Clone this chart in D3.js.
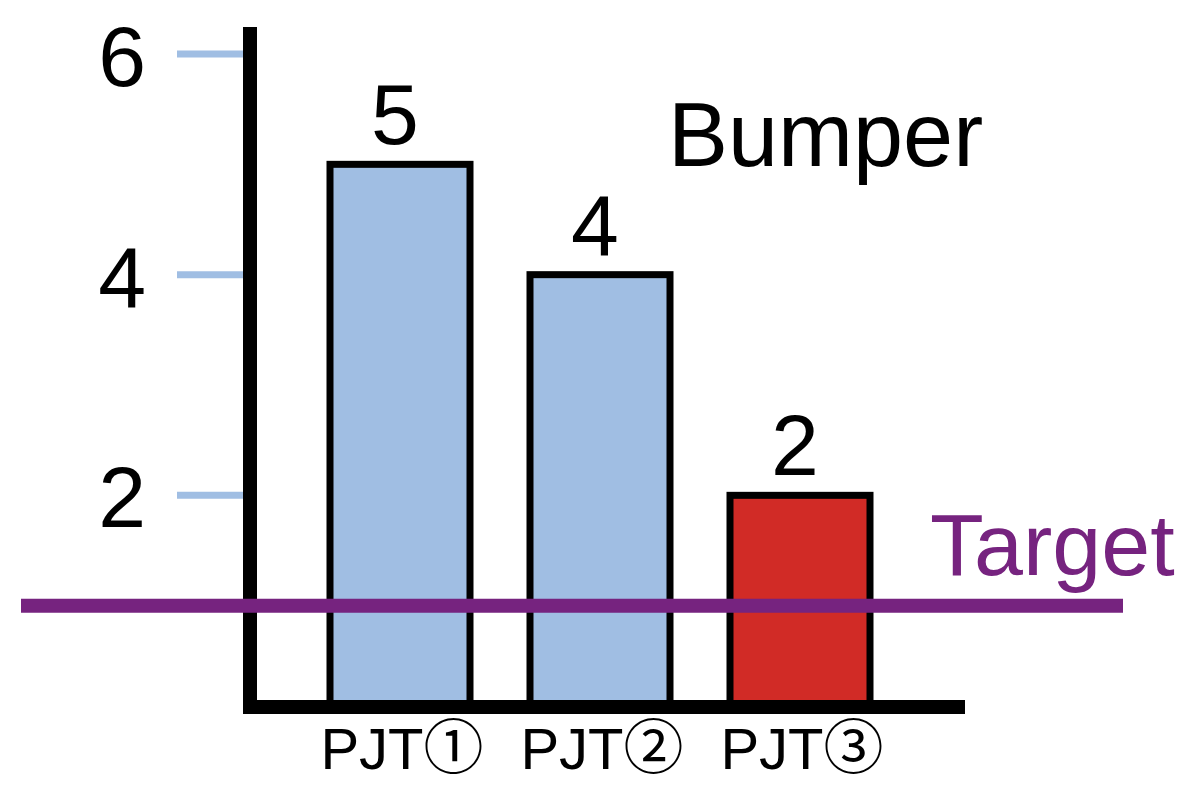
<!DOCTYPE html>
<html>
<head>
<meta charset="utf-8">
<script src="https://cdn.jsdelivr.net/npm/d3@7"></script>
<style>
  html, body { margin: 0; padding: 0; background: #fff; }
  svg { display: block; }
</style>
</head>
<body>
<svg id="chart" width="1200" height="788"></svg>
<script>
// ---- data ----
const categories = ["PJT①", "PJT②", "PJT③"];
const values = [5, 4, 2];
const barColors = ["#A0BEE3", "#A0BEE3", "#D12B26"];
const yTicks = [2, 4, 6];
const targetValue = 1;
const targetLabel = "Target";
const titleLabel = "Bumper";

// ---- layout ----
const svg = d3.select("#chart");
const y = d3.scaleLinear().domain([0, 6]).range([716, 54]);
const x = d3.scaleBand().domain(categories).range([300, 900])
  .paddingInner(0.3).paddingOuter(0.15);
const axisY = 707;   // drawn position of the x-axis line

const latin = "'Liberation Sans', Arial, Helvetica, sans-serif";
const jp = "'Noto Sans CJK JP', 'Noto Sans CJK SC', sans-serif";

// tick marks (light blue)
svg.append("g").selectAll("line").data(yTicks).join("line")
  .attr("x1", 177).attr("x2", 246)
  .attr("y1", d => y(d)).attr("y2", d => y(d))
  .attr("stroke", "#A0BEE3").attr("stroke-width", 7);

// tick labels
svg.append("g").selectAll("text").data(yTicks).join("text")
  .attr("x", 146).attr("y", d => y(d) + 32)
  .attr("text-anchor", "end")
  .attr("font-family", latin).attr("font-size", 86)
  .attr("fill", "#000")
  .text(d => d);

// bars
svg.append("g").selectAll("rect").data(values).join("rect")
  .attr("x", (d, i) => x(categories[i]))
  .attr("width", x.bandwidth())
  .attr("y", d => y(d))
  .attr("height", d => axisY - y(d))
  .attr("fill", (d, i) => barColors[i])
  .attr("stroke", "#000").attr("stroke-width", 7);

// value labels
svg.append("g").selectAll("text").data(values).join("text")
  .attr("x", (d, i) => x(categories[i]) + x.bandwidth() / 2 - 5)
  .attr("y", d => y(d) - 20)
  .attr("text-anchor", "middle")
  .attr("font-family", latin).attr("font-size", 86)
  .attr("fill", "#000")
  .text(d => d);

// axes (thick black)
svg.append("line")
  .attr("x1", 250).attr("x2", 250).attr("y1", 27).attr("y2", 714)
  .attr("stroke", "#000").attr("stroke-width", 14);
svg.append("line")
  .attr("x1", 243).attr("x2", 965).attr("y1", axisY).attr("y2", axisY)
  .attr("stroke", "#000").attr("stroke-width", 14);

// category labels: latin part + circled number
const catText = svg.append("g").selectAll("text").data(categories).join("text")
  .attr("x", d => x(d) + x.bandwidth() / 2 + 2)
  .attr("y", 769)
  .attr("text-anchor", "middle")
  .attr("fill", "#000");
catText.append("tspan")
  .attr("font-family", latin).attr("font-size", 58)
  .text(d => d.slice(0, -1));
catText.append("tspan")
  .attr("font-family", jp).attr("font-size", 60)
  .text(d => d.slice(-1));

// target line
svg.append("line")
  .attr("x1", 21).attr("x2", 1123)
  .attr("y1", y(targetValue)).attr("y2", y(targetValue))
  .attr("stroke", "#76237F").attr("stroke-width", 14);

svg.append("text")
  .attr("x", 930).attr("y", 575)
  .attr("font-family", latin).attr("font-size", 88)
  .attr("fill", "#76237F")
  .text(targetLabel);

svg.append("text")
  .attr("x", 668).attr("y", 166)
  .attr("font-family", latin).attr("font-size", 90)
  .attr("fill", "#000")
  .text(titleLabel);
</script>
</body>
</html>
